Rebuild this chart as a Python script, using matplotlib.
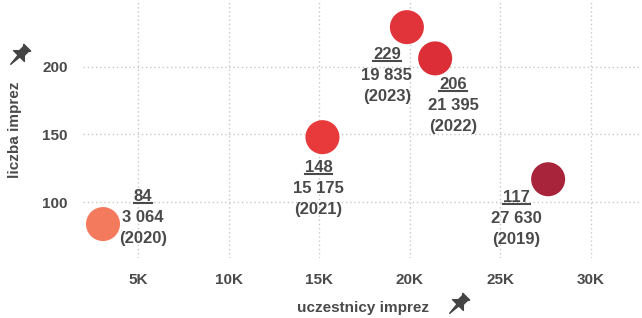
import matplotlib
matplotlib.use("Agg")
import matplotlib.pyplot as plt
from matplotlib.path import Path
from matplotlib.transforms import Affine2D, IdentityTransform
from matplotlib.lines import Line2D

# data
years = ["2019", "2020", "2021", "2022", "2023"]
participants = [27630, 3064, 15175, 21395, 19835]
participants_txt = ["27 630", "3 064", "15 175", "21 395", "19 835"]
events = [117, 84, 148, 206, 229]
colors = ["#a8243a", "#f47a5e", "#e83a3a", "#dc2e36", "#e0343a"]
# label offsets (pixels, x right / y down) of the middle line relative to each point
label_off = [(-32, 39), (40, -7), (-4, 51), (18, 47), (-20, 48)]

x_ticks = [5000, 10000, 15000, 20000, 25000, 30000]
x_ticklabels = ["5K", "10K", "15K", "20K", "25K", "30K"]
y_ticks = [100, 150, 200]

W, H = 642, 318
TXT = "#4a4a4a"
LINE_H = 21  # px between label lines

plt.rcParams["font.family"] = ["Liberation Sans", "DejaVu Sans"]


def pin_marker():
    cap = [(-0.35, 1.0), (0.35, 1.0), (0.25, 0.85), (0.25, 0.45), (0.55, 0.15),
           (-0.55, 0.15), (-0.25, 0.45), (-0.25, 0.85), (-0.35, 1.0)]
    needle = [(-0.09, 0.15), (0.09, 0.15), (0.0, -0.7), (-0.09, 0.15)]
    verts = cap + needle
    codes = ([Path.MOVETO] + [Path.LINETO] * (len(cap) - 2) + [Path.CLOSEPOLY]
             + [Path.MOVETO] + [Path.LINETO] * (len(needle) - 2) + [Path.CLOSEPOLY])
    p = Path(verts, codes)
    return Affine2D().rotate_deg(-45).transform_path(p)


fig = plt.figure(figsize=(W / 100, H / 100), dpi=100)
ax = fig.add_axes([83 / W, 60 / H, 557 / W, 258 / H])

ax.scatter(participants, events, s=600, c=colors, edgecolors="none",
           zorder=3, clip_on=False)

top_labels = []
for i in range(len(years)):
    dx, dy = label_off[i]
    lines = [str(events[i]), participants_txt[i], "(" + years[i] + ")"]
    for k, line in enumerate(lines):
        t = ax.annotate(line, (participants[i], events[i]),
                        xytext=(dx * 0.72, -(dy + (k - 1) * LINE_H) * 0.72),
                        textcoords="offset points", ha="center", va="center",
                        fontsize=12, fontweight="bold", color=TXT, zorder=4,
                        annotation_clip=False)
        if k == 0:
            top_labels.append(t)

ax.set_xlim(1960, 32700)
ax.set_ylim(59, 249)
ax.set_xticks(x_ticks)
ax.set_xticklabels(x_ticklabels)
ax.set_yticks(y_ticks)
ax.tick_params(length=0, labelsize=11, labelcolor=TXT, pad=11)
for lab in ax.get_xticklabels() + ax.get_yticklabels():
    lab.set_fontweight("bold")
ax.grid(True, color="#c8c8c8", linestyle=(0, (1, 2)), linewidth=1)
ax.set_axisbelow(True)
for s in ax.spines.values():
    s.set_visible(False)

fig.text(363 / W, 1 - 308 / H, "uczestnicy imprez", ha="center", va="center",
         fontsize=11, fontweight="bold", color=TXT)
fig.text(15 / W, 1 - 130 / H, "liczba imprez", ha="center", va="center",
         rotation=90, fontsize=11, fontweight="bold", color=TXT)

pin = pin_marker()
for px, py in [(17, 57), (456, 306)]:
    fig.add_artist(Line2D([px / W], [1 - py / H], marker=pin, markersize=19,
                          color="#444444", linestyle="none",
                          transform=fig.transFigure))

# underline the event counts
fig.canvas.draw()
renderer = fig.canvas.get_renderer()
for t in top_labels:
    bb = t.get_window_extent(renderer)
    fig.add_artist(Line2D([bb.x0, bb.x1], [bb.y0 + 1, bb.y0 + 1], color=TXT,
                          linewidth=1.5, transform=IdentityTransform()))

fig.savefig("out.png", dpi=100)
